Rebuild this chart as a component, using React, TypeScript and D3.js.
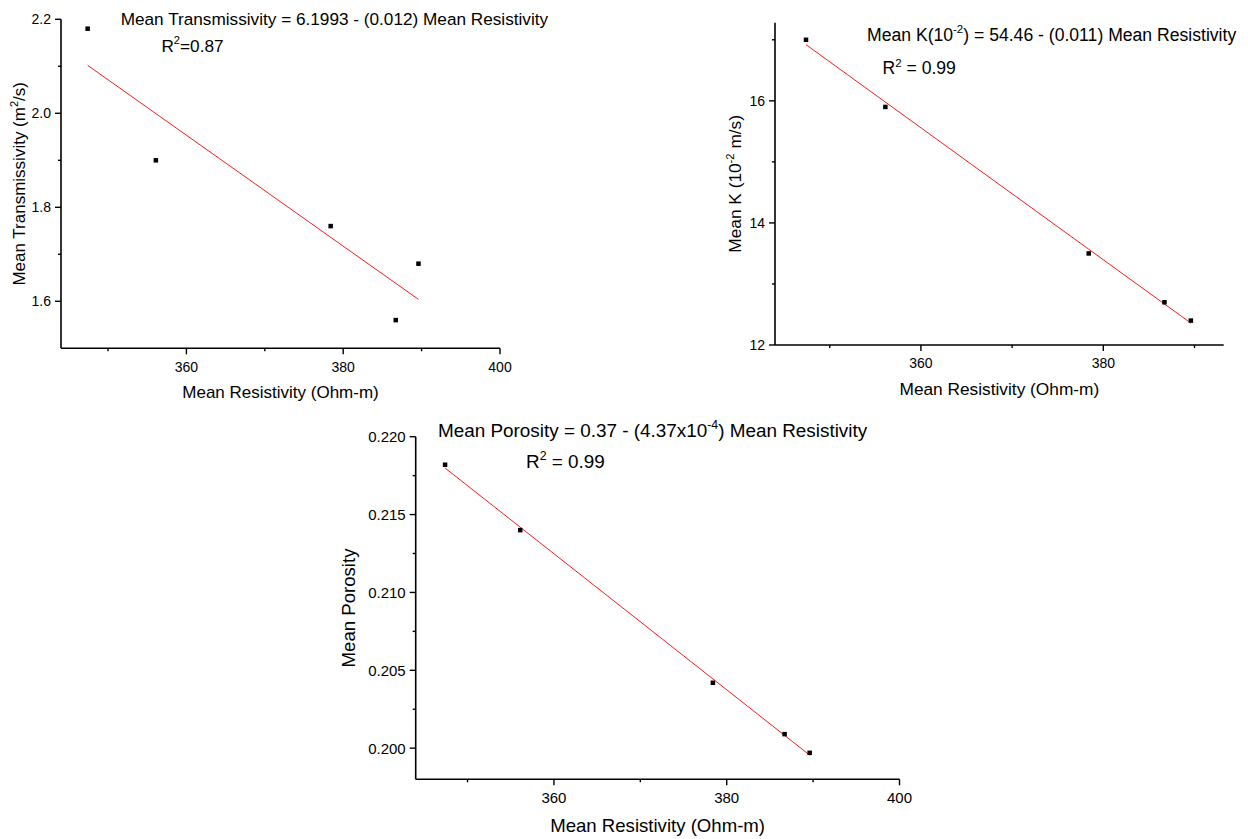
import React from "react";
import * as d3 from "d3";

// ---------- data ----------
const resistivity = [347.4, 356.1, 378.4, 386.7, 389.6];
const transmissivity = [2.18, 1.9, 1.76, 1.56, 1.68];
const hydraulicK = [17.0, 15.9, 13.5, 12.7, 12.4];
const porosity = [0.2182, 0.214, 0.2042, 0.2009, 0.1997];

const xMajorTicks = [360, 380, 400];
const xMinorTicks = [350, 370, 390];
const transMajorTicks = [1.6, 1.8, 2.0, 2.2];
const transMinorTicks = [1.7, 1.9, 2.1];
const kMajorTicks = [12, 14, 16];
const kMinorTicks = [13, 15, 17];
const porMajorTicks = [0.2, 0.205, 0.21, 0.215, 0.22];
const porMinorTicks = [0.2025, 0.2075, 0.2125, 0.2175];

const FONT = "'Liberation Sans', Arial, Helvetica, sans-serif";

type Seg = { t: string; sup?: boolean };

function Rich({ segs, fs, ...rest }: { segs: Seg[]; fs: number; [k: string]: any }) {
  const out: any[] = [];
  let raised = false;
  segs.forEach((s, i) => {
    if (s.sup) {
      out.push(
        <tspan key={i} dy={-0.42 * fs} fontSize={fs * 0.65}>
          {s.t}
        </tspan>
      );
      raised = true;
    } else {
      out.push(
        <tspan key={i} dy={raised ? 0.42 * fs : 0} fontSize={fs}>
          {s.t}
        </tspan>
      );
      raised = false;
    }
  });
  return (
    <text fontSize={fs} fontFamily={FONT} fill="#000" {...rest}>
      {out}
    </text>
  );
}

function linReg(xs: number[], ys: number[]) {
  const mx = d3.mean(xs) as number;
  const my = d3.mean(ys) as number;
  const sxy = d3.sum(xs.map((x, i) => (x - mx) * (ys[i] - my)));
  const sxx = d3.sum(xs.map((x) => (x - mx) * (x - mx)));
  const slope = sxy / sxx;
  return { slope, intercept: my - slope * mx };
}

type PanelProps = {
  xDomain: [number, number];
  yDomain: [number, number];
  xRange: [number, number];
  yRange: [number, number];
  xMajor: number[];
  xMinor: number[];
  yMajor: number[];
  yMinor: number[];
  yFormat: (v: number) => string;
  ys: number[];
  tickFs: number;
  titleFs: number;
  eqFs: number;
  xTitleY: number;
  yTitleX: number;
  yTitle: Seg[];
  eq: Seg[];
  eqPos: [number, number];
  r2: Seg[];
  r2Pos: [number, number];
  xLabelOffset: number;
};

function Panel(p: PanelProps) {
  const x = d3.scaleLinear().domain(p.xDomain).range(p.xRange);
  const y = d3.scaleLinear().domain(p.yDomain).range(p.yRange);
  const x0 = p.xRange[0];
  const y0 = p.yRange[0];
  const reg = linReg(resistivity, p.ys);
  const xmin = d3.min(resistivity) as number;
  const xmax = d3.max(resistivity) as number;
  const fitPts: [number, number][] = [xmin, xmax].map((v) => [x(v), y(reg.intercept + reg.slope * v)]);
  const line = d3.line();
  const inX = (v: number) => v >= p.xDomain[0] && v <= p.xDomain[1];
  const ms = 4.5;
  return (
    <g>
      {/* fit line */}
      <path d={line(fitPts) as string} stroke="#ff1a1a" strokeWidth={1} fill="none" />
      {/* points */}
      {resistivity.map((r, i) => (
        <rect key={i} x={x(r) - ms / 2} y={y(p.ys[i]) - ms / 2} width={ms} height={ms} fill="#000" />
      ))}
      {/* axes */}
      <line x1={x0} x2={p.xRange[1]} y1={y0} y2={y0} stroke="#000" strokeWidth={1.6} />
      <line x1={x0} x2={x0} y1={y0} y2={p.yRange[1]} stroke="#000" strokeWidth={1.6} />
      {p.xMajor.filter(inX).map((v) => (
        <g key={"xm" + v}>
          <line x1={x(v)} x2={x(v)} y1={y0} y2={y0 + 6} stroke="#000" strokeWidth={1.4} />
          <text x={x(v)} y={y0 + p.xLabelOffset} textAnchor="middle" fontSize={p.tickFs} fontFamily={FONT}>
            {v}
          </text>
        </g>
      ))}
      {p.xMinor.filter(inX).map((v) => (
        <line key={"xn" + v} x1={x(v)} x2={x(v)} y1={y0} y2={y0 + 3} stroke="#000" strokeWidth={1.4} />
      ))}
      {p.yMajor.map((v) => (
        <g key={"ym" + v}>
          <line x1={x0 - 6} x2={x0} y1={y(v)} y2={y(v)} stroke="#000" strokeWidth={1.4} />
          <text x={x0 - 10} y={y(v)} dy="0.36em" textAnchor="end" fontSize={p.tickFs} fontFamily={FONT}>
            {p.yFormat(v)}
          </text>
        </g>
      ))}
      {p.yMinor.map((v) => (
        <line key={"yn" + v} x1={x0 - 3} x2={x0} y1={y(v)} y2={y(v)} stroke="#000" strokeWidth={1.4} />
      ))}
      {/* titles */}
      <Rich
        segs={[{ t: "Mean Resistivity (Ohm-m)" }]}
        fs={p.titleFs}
        x={(p.xRange[0] + p.xRange[1]) / 2}
        y={p.xTitleY}
        textAnchor="middle"
      />
      <Rich
        segs={p.yTitle}
        fs={p.titleFs}
        textAnchor="middle"
        transform={`translate(${p.yTitleX},${(p.yRange[0] + p.yRange[1]) / 2}) rotate(-90)`}
      />
      <Rich segs={p.eq} fs={p.eqFs} x={p.eqPos[0]} y={p.eqPos[1]} />
      <Rich segs={p.r2} fs={p.eqFs} x={p.r2Pos[0]} y={p.r2Pos[1]} />
    </g>
  );
}

export default function App() {
  return (
    <svg
      width={1248}
      height={839}
      style={{ position: "absolute", left: 0, top: 0, background: "#fff" }}
    >
      <rect x={0} y={0} width={1248} height={839} fill="#fff" />
      <Panel
        xDomain={[344, 400]}
        yDomain={[1.5, 2.2]}
        xRange={[61, 500]}
        yRange={[348.3, 19.3]}
        xMajor={xMajorTicks}
        xMinor={xMinorTicks}
        yMajor={transMajorTicks}
        yMinor={transMinorTicks}
        yFormat={(v) => d3.format(".1f")(v)}
        ys={transmissivity}
        tickFs={14}
        titleFs={17}
        eqFs={17.2}
        xTitleY={398}
        yTitleX={25}
        yTitle={[{ t: "Mean Transmissivity (m" }, { t: "2", sup: true }, { t: "/s)" }]}
        eq={[{ t: "Mean Transmissivity = 6.1993 - (0.012) Mean Resistivity" }]}
        eqPos={[120.7, 25]}
        r2={[{ t: "R" }, { t: "2", sup: true }, { t: "=0.87" }]}
        r2Pos={[161.4, 51.7]}
        xLabelOffset={23.4}
      />
      <Panel
        xDomain={[344, 393.2]}
        yDomain={[12, 17.28]}
        xRange={[775, 1223.7]}
        yRange={[345, 22.7]}
        xMajor={xMajorTicks}
        xMinor={xMinorTicks}
        yMajor={kMajorTicks}
        yMinor={kMinorTicks}
        yFormat={(v) => String(v)}
        ys={hydraulicK}
        tickFs={14}
        titleFs={17.3}
        eqFs={17.6}
        xTitleY={395}
        yTitleX={741}
        yTitle={[{ t: "Mean K (10" }, { t: "-2", sup: true }, { t: " m/s)" }]}
        eq={[{ t: "Mean K(10" }, { t: "-2", sup: true }, { t: ") = 54.46 - (0.011) Mean Resistivity" }]}
        eqPos={[867, 40.7]}
        r2={[{ t: "R" }, { t: "2", sup: true }, { t: " = 0.99" }]}
        r2Pos={[882.5, 74]}
        xLabelOffset={23}
      />
      <Panel
        xDomain={[344, 400]}
        yDomain={[0.198, 0.22]}
        xRange={[415.7, 899.5]}
        yRange={[779.3, 436.7]}
        xMajor={xMajorTicks}
        xMinor={xMinorTicks}
        yMajor={porMajorTicks}
        yMinor={porMinorTicks}
        yFormat={(v) => d3.format(".3f")(v)}
        ys={porosity}
        tickFs={15}
        titleFs={18.6}
        eqFs={18.9}
        xTitleY={831.7}
        yTitleX={355}
        yTitle={[{ t: "Mean Porosity" }]}
        eq={[{ t: "Mean Porosity = 0.37 - (4.37x10" }, { t: "-4", sup: true }, { t: ") Mean Resistivity" }]}
        eqPos={[437.9, 436.7]}
        r2={[{ t: "R" }, { t: "2", sup: true }, { t: " = 0.99" }]}
        r2Pos={[526, 468.3]}
        xLabelOffset={24}
      />
    </svg>
  );
}
